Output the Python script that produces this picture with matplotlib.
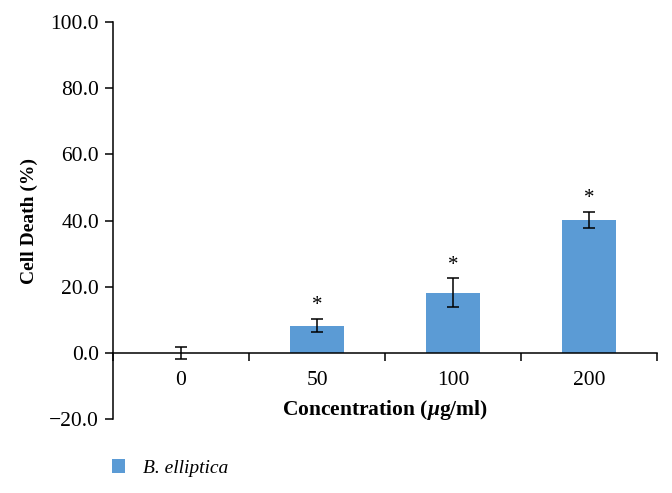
import numpy as np
import matplotlib.pyplot as plt

categories = ['0', '50', '100', '200']
cell_death = [0.0, 8.2, 18.2, 40.2]
errors = [1.8, 2.0, 4.3, 2.4]
series_name = 'B. elliptica'

plt.rcParams['font.family'] = ['Liberation Serif', 'DejaVu Serif']
plt.rcParams['mathtext.fontset'] = 'custom'
plt.rcParams['mathtext.it'] = 'Liberation Serif:italic:bold'

fig = plt.figure(figsize=(6.72, 4.93), dpi=100)
ax = fig.add_axes([0.168, 0.150, 0.810, 0.805])

x = np.arange(len(categories))
color = '#5b9bd5'
bars = ax.bar(x, cell_death, width=0.40, color=color, label=series_name, zorder=2)
ax.errorbar(x, cell_death, yerr=errors, fmt='none', ecolor='black',
            elinewidth=1.1, capsize=4, capthick=1.1, zorder=3)

for xi, v, e in zip(x[1:], cell_death[1:], errors[1:]):
    ax.text(xi, v + e + 1.2, '*', ha='center', va='bottom', fontsize=15)

ax.set_xlim(-0.5, len(categories) - 0.5)
ax.set_ylim(-20, 100)
ax.set_yticks(np.arange(-20, 101, 20))
ax.set_yticklabels(['\u221220.0' if t < 0 else f'{t:.1f}' for t in np.arange(-20, 101, 20)])

ax.spines['top'].set_visible(False)
ax.spines['right'].set_visible(False)
ax.spines['bottom'].set_position(('data', 0))
ax.spines['left'].set_linewidth(1.1)
ax.spines['bottom'].set_linewidth(1.1)

ax.set_xticks(x)
ax.set_xticklabels(categories)
ax.set_xticks(np.arange(-0.5, len(categories), 1), minor=True)
ax.tick_params(axis='x', which='major', length=0, pad=13, labelsize=15.5)
ax.tick_params(axis='x', which='minor', length=6, width=1.1, direction='out')
ax.tick_params(axis='y', length=6, width=1.1, direction='out', labelsize=15.5, pad=4)

ax.set_ylabel('Cell Death (%)', fontsize=14, fontweight='bold', labelpad=8)
fig.text(0.573, 0.168, r'Concentration ($\mu$g/ml)', ha='center', va='center',
         fontsize=15.5, fontweight='bold')

leg = fig.legend(handles=[bars], labels=[series_name], loc='center left',
                 bbox_to_anchor=(0.140, 0.051), frameon=False,
                 prop={'style': 'italic', 'size': 14}, handlelength=0.7,
                 handleheight=0.7, handletextpad=0.9)

fig.savefig('out.png', dpi=100)
